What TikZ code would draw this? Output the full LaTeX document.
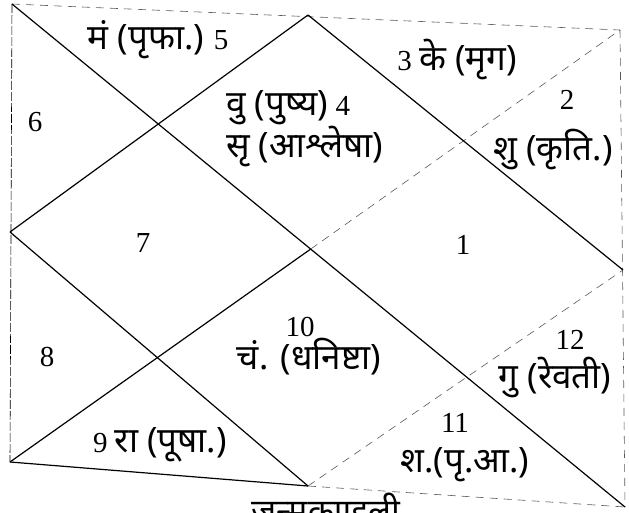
\documentclass[tikz,border=0pt]{standalone}
\usepackage{fontspec}
\setmainfont{Liberation Serif}
\newfontfamily\dev[Script=Devanagari]{Noto Sans}
\newcommand{\hi}[1]{{\dev\fontsize{35}{28}\selectfont #1}}
\begin{document}
\begin{tikzpicture}[x=1pt,y=-1pt,
  firm/.style={line width=1.2pt},
  faint/.style={line width=0.6pt,black!65,dash pattern=on 8pt off 6pt},
  lbl/.style={inner sep=0pt,font=\fontsize{29}{28}\selectfont}]
\clip (0,0) rectangle (629,513);
% corners and midpoints of the chart
\coordinate (tl) at (12,4);
\coordinate (tr) at (620,30);
\coordinate (bl) at (10,462);
\coordinate (br) at (625,507);
\coordinate (tm) at (308,15);
\coordinate (lm) at (10,232);
\coordinate (rm) at (623,270);
\coordinate (bm) at (308,486);
\coordinate (c) at (intersection of tl--br and bl--tr);

% outer frame
\draw[faint] (tl)--(tr);
\draw[faint] (tr)--(br);
\draw[faint] (bm)--(br);
\draw[firm] (bl)--(bm);
\draw[line width=0.6pt,dash pattern=on 9pt off 2pt] (tl)--(bl);

% diagonals
\draw[firm] (tl)--(br);
\draw[firm] (bl)--(c);
\draw[faint] (c)--(tr);

% inner rhombus
\draw[firm] (tm)--(lm);
\draw[firm] (lm)--(bm);
\draw[firm] (tm)--(rm);
\draw[faint] (bm)--(rm);

% houses
\node[lbl] (h5) at (158,40) {\hi{मं (पृफा.)} 5};
\node[lbl] (h6) at (35,122) {6};
\node[lbl,align=left,anchor=west] (h4) at (226,129) {\hi{वु (पुष्य)} 4\\\hi{सृ (आश्लेषा)}};
\node[lbl] (h3) at (457,60) {3 \hi{के (मृग)}};
\node[lbl] (h2) at (567,100) {2};
\node[lbl] (h2p) at (553,150) {\hi{शु (कृति.)}};
\node[lbl] (h7) at (143,243) {7};
\node[lbl] (h1) at (463,245) {1};
\node[lbl] (h8) at (47,357) {8};
\node[lbl] (h10) at (300,327) {10};
\node[lbl] (h10p) at (309,357) {\hi{चं. (धनिष्टा)}};
\node[lbl] (h9) at (160,445) {9 \hi{रा (पूषा.)}};
\node[lbl] (h12) at (570,340) {12};
\node[lbl] (h12p) at (555,378) {\hi{गु (रेवती)}};
\node[lbl] (h11) at (455,423) {11};
\node[lbl] (h11p) at (465,465) {\hi{श.(पृ.आ.)}};
\node[lbl,anchor=north,font=\fontsize{34}{36}\selectfont\bfseries] (title) at (326,493) {\dev जन्मकुण्डली};
\end{tikzpicture}
\end{document}
